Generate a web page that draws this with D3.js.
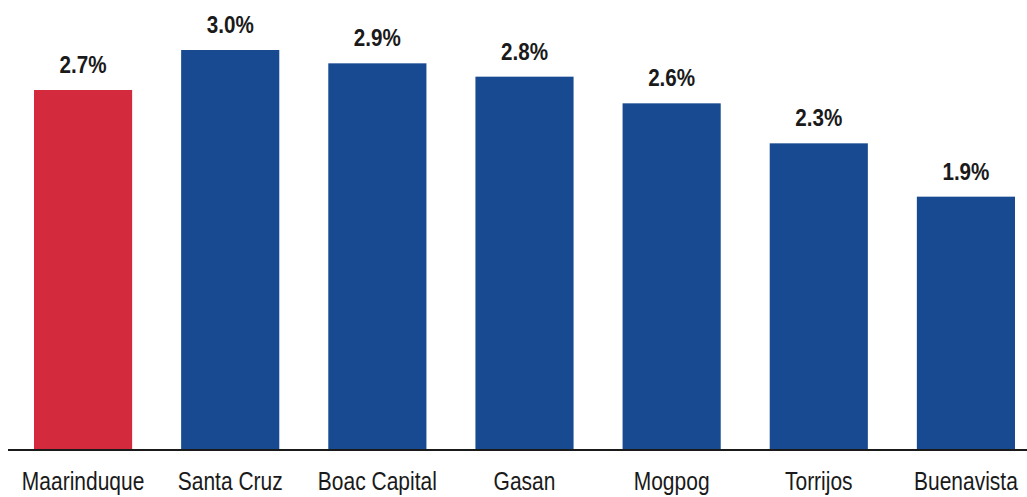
<!DOCTYPE html>
<html><head><meta charset="utf-8">
<script src="https://cdn.jsdelivr.net/npm/d3@7"></script>
<style>html,body{margin:0;padding:0;background:#fff;}</style>
</head><body>
<svg id="chart" width="1027" height="497"></svg>
<script>
const categories = ["Maarinduque","Santa Cruz","Boac Capital","Gasan","Mogpog","Torrijos","Buenavista"];
const values = [2.7, 3.0, 2.9, 2.8, 2.6, 2.3, 1.9];
const valueLabels = ["2.7%","3.0%","2.9%","2.8%","2.6%","2.3%","1.9%"];
const barColors = ["#d42a3e","#174a91","#174a91","#174a91","#174a91","#174a91","#174a91"];

const FONT = "'Liberation Sans Narrow', 'Liberation Sans', Arial, sans-serif";
const svg = d3.select("#chart");
const x = d3.scaleBand().domain(categories).range([34, 1015]).paddingInner(0.333).paddingOuter(0);
const y = d3.scaleLinear().domain([0, 3.0]).range([450, 50]);

svg.selectAll("rect.bar").data(categories).join("rect")
  .attr("class","bar")
  .attr("x", d => x(d))
  .attr("y", (d,i) => y(values[i]))
  .attr("width", x.bandwidth())
  .attr("height", (d,i) => y(0) - y(values[i]))
  .attr("fill", (d,i) => barColors[i]);

svg.selectAll("text.val").data(categories).join("text")
  .attr("class","val")
  .attr("transform", (d,i) => `translate(${x(d) + x.bandwidth()/2},${y(values[i]) - 17}) scale(0.86,1)`)
  .attr("text-anchor","middle")
  .attr("font-family", FONT)
  .attr("font-weight","bold")
  .attr("font-size", 24)
  .attr("fill","#1a1a1a")
  .text((d,i) => valueLabels[i]);

const axis = d3.axisBottom(x).tickSize(0).tickPadding(0);
const g = svg.append("g").attr("transform", `translate(0,${y(0)})`).call(axis);
g.select(".domain").remove();
g.append("line").attr("x1", 8).attr("x2", 1027).attr("y1", 0).attr("y2", 0)
  .attr("stroke","#1a1a1a").attr("stroke-width", 2);
g.selectAll(".tick text")
  .attr("dy", null)
  .attr("y", null)
  .attr("transform", "translate(0,40) scale(0.84,1)")
  .attr("font-family", FONT)
  .attr("font-size", 25)
  .attr("fill","#1a1a1a");
</script>
</body></html>
